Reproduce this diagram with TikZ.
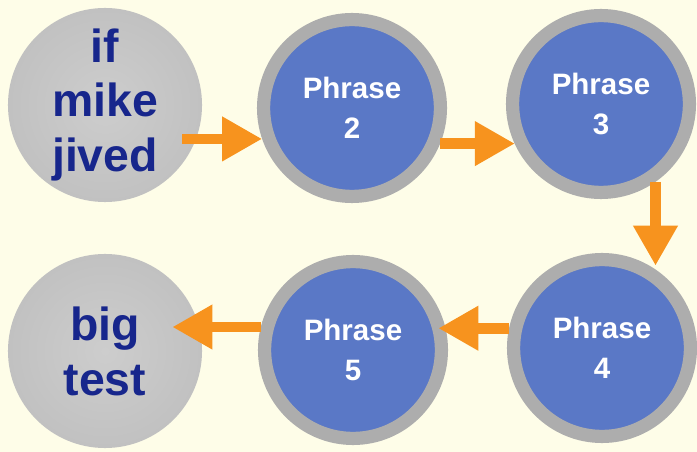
\documentclass[tikz,border=0pt]{standalone}
\usepackage{fontspec}
\setmainfont{Liberation Sans}
\usepackage{tikz}
\usetikzlibrary{positioning}
\usetikzlibrary{arrows.meta}
\usetikzlibrary{calc}
\definecolor{bgcream}{HTML}{FEFDE8}
\definecolor{wordgray}{HTML}{CDCDCD}
\definecolor{wordedge}{HTML}{C1C1C1}
\definecolor{ringgray}{HTML}{ADADAD}
\definecolor{phraseblue}{HTML}{5A78C6}
\definecolor{arroworange}{HTML}{F7931E}
\definecolor{wordnavy}{HTML}{17268C}

\begin{document}
\begin{tikzpicture}[x=0.025cm,y=-0.025cm]
\fill[bgcream] (0,0) rectangle (697,452);
\useasboundingbox (0,0) rectangle (697,452);

\begin{scope}[every node/.style={circle, inner sep=0pt, align=center},
              wordnode/.style={shading=radial, inner color=wordgray,
                               outer color=wordedge, minimum size=4.85cm,
                               text=wordnavy, font=\bfseries\fontsize{33}{39}\selectfont},
              phrasenode/.style={fill=phraseblue, draw=ringgray, line width=0.33cm,
                                 minimum size=4.42cm, text=white,
                                 font=\bfseries\fontsize{21}{28.5}\selectfont}]
    \node[wordnode] (mike) at (105,105) {if\\mike\\jived};
    \node[phrasenode] (p2) at (352,108) {Phrase\\2};
    \node[phrasenode] (p3) at (601,104) {Phrase\\3};
    \node[phrasenode] (p4) at (602,348) {Phrase\\4};
    \node[phrasenode] (p5) at (353,350) {Phrase\\5};
    \node[wordnode] (test) at (105,351) {big\\test};
\end{scope}

\begin{scope}[every edge/.style={draw=arroworange, line width=0.27cm,
                                 -{Triangle[length=1cm,width=1.05cm]}}]
    \path ([xshift=-0.5cm]mike.east |- p2.199) edge (p2.199);
    \path (p2.-22) edge (p2.-22 -| p3.205);
    \path (p3.-55) edge (p3.-55 |- p4.60);
    \path (p4.168) edge[shorten >=-0.15cm] (p4.168 -| p5.16);
    \path (p5.166) edge ([xshift=-0.75cm]test.east |- p5.166);
\end{scope}
\end{tikzpicture}
\end{document}
